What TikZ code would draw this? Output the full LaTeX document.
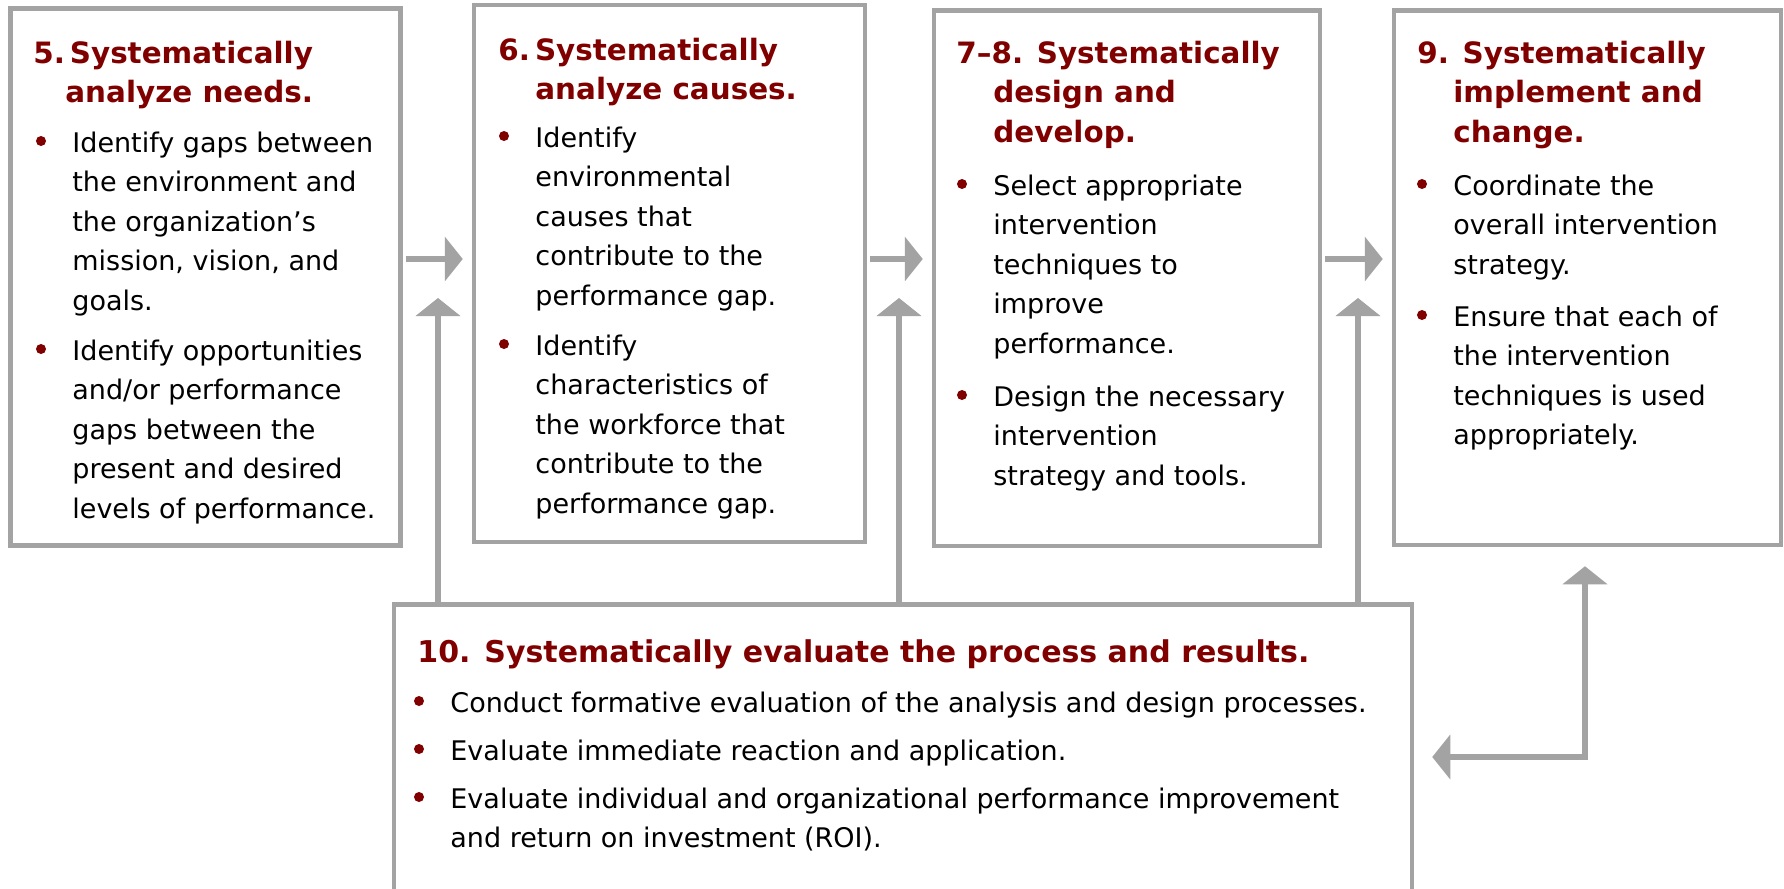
\documentclass[tikz,border=0pt]{standalone}
\usepackage{fontspec}
\setmainfont{DejaVu Sans}
\usepackage{tikz}
\usetikzlibrary{arrows.meta, positioning, fit, calc}
\definecolor{stepred}{RGB}{128,0,0}
\definecolor{framegray}{RGB}{163,163,163}
\tikzset{
    stepbox/.style={rectangle, draw=framegray, line width=2.25pt, fill=white, inner sep=0pt},
    steptitle/.style={anchor=north west, inner sep=0pt, yshift=13.825pt, align=left,
                      text=stepred, font=\fontsize{14.7}{19.75}\selectfont\bfseries},
    itemtext/.style={anchor=north west, inner sep=0pt, yshift=13.825pt, align=left,
                     font=\fontsize{13.5}{19.75}\selectfont},
    itemdot/.style={circle, fill=stepred, inner sep=0pt, minimum size=5pt},
    flowarrow/.style={draw=framegray, line width=3pt, -{Triangle[length=9pt, width=22pt]}},
    loopflow/.style={draw=framegray, line width=3pt,
                     {Triangle[length=9pt, width=22pt]}-{Triangle[length=9pt, width=22pt]}},
}
% bullet and its lines: name, text x, first baseline, text
\newcommand{\stepitem}[4]{%
    \node[itemdot] (#1dot) at (#2-31,#3-11) {};
    \node[itemtext] (#1) at (#2,#3) {\strut #4};
}

\begin{document}
\begin{tikzpicture}[x=0.5pt, y=-0.5pt]
    \path[use as bounding box, fill=white] (0,0) rectangle (1784,889);

    % the five step boxes
    \node[stepbox, fit={(10.5,8.5) (400.5,545.5)}] (box5) {};
    \node[stepbox, fit={(474,5) (865,542)}] (box6) {};
    \node[stepbox, fit={(934,10.5) (1320,546)}] (box78) {};
    \node[stepbox, fit={(1394,10.5) (1781,545)}] (box9) {};
    \node[stepbox, fit={(394,604.5) (1412,900)}] (box10) {};

    % titles
    \node[steptitle] (title5) at (33,63) {\strut 5.\,Systematically\\\hspace*{16pt}analyze needs.};
    \node[steptitle] (title6) at (498,60) {\strut 6.\hspace{2.5pt}Systematically\\\hspace*{18.5pt}analyze causes.};
    \node[steptitle] (title78) at (956,63) {\strut 7–8. Systematically\\\hspace*{18.5pt}design and\\\hspace*{18.5pt}develop.};
    \node[steptitle] (title9) at (1417,63) {\strut 9. Systematically\\\hspace*{18pt}implement and\\\hspace*{18pt}change.};
    \node[steptitle, font=\fontsize{15}{19.75}\selectfont\bfseries] (title10) at (417,662)
        {\strut 10. Systematically evaluate the process and results.};

    % bullet items
    \stepitem{item5a}{72}{152}{Identify gaps between\\the environment and\\the organization’s\\mission, vision, and\\goals.}
    \stepitem{item5b}{72}{360}{Identify opportunities\\and/or performance\\gaps between the\\present and desired\\levels of performance.}
    \stepitem{item6a}{535}{147}{Identify\\environmental\\causes that\\contribute to the\\performance gap.}
    \stepitem{item6b}{535}{355}{Identify\\characteristics of\\the workforce that\\contribute to the\\performance gap.}
    \stepitem{item78a}{993}{195}{Select appropriate\\intervention\\techniques to\\improve\\performance.}
    \stepitem{item78b}{993}{406}{Design the necessary\\intervention\\strategy and tools.}
    \stepitem{item9a}{1453}{195}{Coordinate the\\overall intervention\\strategy.}
    \stepitem{item9b}{1453}{326}{Ensure that each of\\the intervention\\techniques is used\\appropriately.}
    \stepitem{item10a}{450}{712}{Conduct formative evaluation of the analysis and design processes.}
    \stepitem{item10b}{450}{760}{Evaluate immediate reaction and application.}
    \stepitem{item10c}{450}{808}{Evaluate individual and organizational performance improvement\\and return on investment (ROI).}

    % forward arrows
    \coordinate (flowrow) at (0,259);
    \draw[flowarrow, shorten <=1.5pt, shorten >=4.5pt] (box5.east |- flowrow) -- (box6.west |- flowrow);
    \draw[flowarrow, shorten <=1.5pt, shorten >=4.5pt] (box6.east |- flowrow) -- (box78.west |- flowrow);
    \draw[flowarrow, shorten <=1.5pt, shorten >=4.5pt] (box78.east |- flowrow) -- (box9.west |- flowrow);

    % feedback from evaluation
    \coordinate (up56) at (438,298);
    \coordinate (up678) at (899,298);
    \coordinate (up789) at (1358,298);
    \draw[flowarrow] (up56 |- box10.north) -- (up56);
    \draw[flowarrow] (up678 |- box10.north) -- (up678);
    \draw[flowarrow] (up789 |- box10.north) -- (up789);

    \coordinate (loopturn) at (1585,757);
    \draw[loopflow] ($(box9.south -| loopturn)+(0,19)$) -- (loopturn) -- ($(box10.east |- loopturn)+(18,0)$);
\end{tikzpicture}
\end{document}
